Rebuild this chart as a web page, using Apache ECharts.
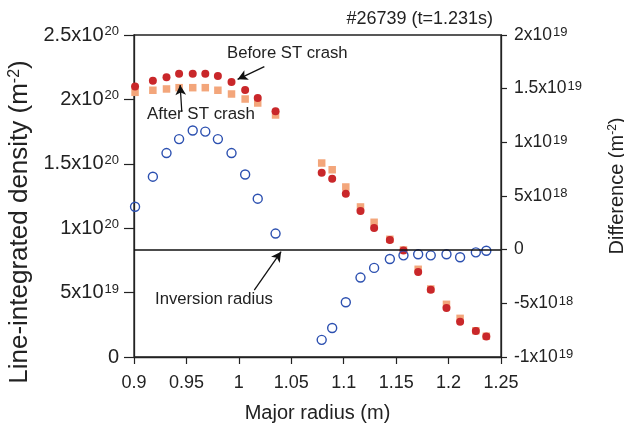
<!DOCTYPE html>
<html><head><meta charset="utf-8">
<script src="https://cdn.jsdelivr.net/npm/echarts@6/dist/echarts.min.js"></script>
<style>html,body{margin:0;padding:0;background:#fff}#c{width:624px;height:423px}</style>
</head><body><div id="c"></div>
<script>
const radius = [0.901,0.918,0.931,0.943,0.956,0.968,0.980,0.993,1.006,1.018,1.035,
                1.079,1.089,1.102,1.116,1.129,1.144,1.157,1.171,1.183,1.198,1.211,1.226,1.236];
// line-integrated density, units of 1e20 m^-2
const beforeCrash = [2.10,2.145,2.172,2.20,2.20,2.20,2.182,2.135,2.073,2.011,1.908,
                     1.431,1.384,1.268,1.134,1.002,0.908,0.826,0.660,0.523,0.380,0.274,0.2015,0.160];
const afterCrash  = [2.055,2.071,2.081,2.091,2.091,2.091,2.071,2.042,2.003,1.972,1.879,
                     1.506,1.454,1.320,1.165,1.046,0.914,0.831,0.681,0.528,0.409,0.300,0.204,0.161];
// difference, units of 1e18 m^-2
const difference  = [4.0,6.8,9.0,10.3,11.1,11.0,10.3,9.0,7.0,4.75,1.5,
                     -8.4,-7.3,-4.9,-2.6,-1.7,-0.87,-0.53,-0.43,-0.53,-0.43,-0.71,-0.25,-0.1];
const xTickLabels = ['0.9','0.95','1','1.05','1.1','1.15','1.2','1.25'];
const leftTickLabels = [['0',''],['5x10','19'],['1x10','20'],['1.5x10','20'],['2x10','20'],['2.5x10','20']];
const rightTickLabels = [['-1x10','19'],['-5x10','18'],['0',''],['5x10','18'],['1x10','19'],['1.5x10','19'],['2x10','19']];

const FONT = 'Liberation Sans, Arial, Helvetica, sans-serif';
function tickRich(base, s){
  return {
    b: {fontFamily: FONT, fontSize: base, color: '#222', lineHeight: base, verticalAlign: 'bottom'},
    s: {fontFamily: FONT, fontSize: s, color: '#222', lineHeight: s, verticalAlign: 'top', padding: [0, 0, 0, 1]}
  };
}
function nameRich(size){
  return {
    b: {fontFamily: FONT, fontSize: size, color: '#222', lineHeight: size, verticalAlign: 'bottom'},
    s: {fontFamily: FONT, fontSize: Math.round(size * 0.62), color: '#222', lineHeight: Math.round(size * 0.62), verticalAlign: 'top'}
  };
}
function sup(pair){ return pair[1] ? '{b|' + pair[0] + '}{s|' + pair[1] + '}' : '{b|' + pair[0] + '}'; }

const e20 = 1e20, e18 = 1e18;
const chart = echarts.init(document.getElementById('c'), null, {renderer: 'canvas'});
const axisLine = {show: true, lineStyle: {color: '#222', width: 1.3}};
chart.setOption({
  animation: false,
  title: {text: '#26739 (t=1.231s)', right: 126, top: 5,
    textStyle: {fontFamily: FONT, fontSize: 18, fontWeight: 'normal', color: '#222'}},
  grid: {left: 134, right: 123, top: 35, bottom: 66, show: true, borderColor: '#222', borderWidth: 1.3,
    outerBoundsMode: 'none', containLabel: false},
  xAxis: {type: 'value', min: 0.9, max: 1.25, interval: 0.05,
    name: 'Major radius (m)', nameLocation: 'middle', nameGap: 46,
    nameTextStyle: {fontFamily: FONT, fontSize: 20, color: '#222'},
    axisLine: axisLine, axisTick: {show: true, inside: false, length: 7, lineStyle: {color: '#222', width: 1.2}},
    axisLabel: {margin: 17, fontFamily: FONT, fontSize: 18, color: '#222',
      formatter: (v, i) => xTickLabels[Math.round((v - 0.9) / 0.05)]},
    splitLine: {show: false}},
  yAxis: [
    {type: 'value', min: 0, max: 2.5e20, interval: 0.5e20, position: 'left',
      name: '{b|Line-integrated density (m}{s|-2}{b|)}', nameLocation: 'middle', nameGap: 101, nameRotate: 90,
      nameTextStyle: {rich: nameRich(26), padding: [0, 52, 0, 0]},
      axisLine: axisLine, axisTick: {show: true, length: 10, lineStyle: {color: '#222', width: 1.2}},
      axisLabel: {margin: 15, rich: tickRich(20, 13), formatter: (v) => sup(leftTickLabels[Math.round(v / 0.5e20)])},
      splitLine: {show: false}},
    {type: 'value', min: -1e19, max: 2e19, interval: 5e18, position: 'right',
      name: '{b|Difference (m}{s|-2}{b|)}', nameLocation: 'middle', nameGap: 106, nameRotate: 90,
      nameTextStyle: {rich: nameRich(20), padding: [0, 0, 0, 20]},
      axisLine: axisLine, axisTick: {show: true, length: 6, lineStyle: {color: '#222', width: 1.2}},
      axisLabel: {margin: 13, rich: tickRich(17.5, 13), formatter: (v) => sup(rightTickLabels[Math.round((v + 1e19) / 5e18)])},
      splitLine: {show: false}}
  ],
  series: [
    {name: 'After ST crash', type: 'scatter', yAxisIndex: 0, symbol: 'rect', symbolSize: 7.5,
      itemStyle: {color: '#f3a67b', opacity: 1},
      data: radius.map((r, i) => [r, afterCrash[i] * e20])},
    {name: 'Before ST crash', type: 'scatter', yAxisIndex: 0, symbol: 'circle', symbolSize: 8,
      itemStyle: {color: '#c9272a', opacity: 1},
      data: radius.map((r, i) => [r, beforeCrash[i] * e20]),
      markLine: {silent: true, symbol: ['none', 'arrow'], symbolSize: [8, 10],
        lineStyle: {color: '#111', width: 1.3, type: 'solid'}, label: {show: false},
        data: [
          [{coord: [1.0243, 2.254e20]}, {coord: [0.9988, 2.156e20]}],
          [{coord: [0.9456, 1.902e20]}, {coord: [0.9440, 2.112e20]}],
          [{coord: [1.0147, 0.520e20]}, {coord: [1.0403, 0.8175e20]}]
        ]}},
    {name: 'Difference', type: 'scatter', yAxisIndex: 1, symbol: 'circle', symbolSize: 9,
      itemStyle: {color: 'rgba(0,0,0,0)', borderColor: '#2c50b0', borderWidth: 1.4, opacity: 1},
      data: radius.map((r, i) => [r, difference[i] * e18]),
      markLine: {silent: true, symbol: 'none', label: {show: false},
        lineStyle: {color: '#111', width: 1.6, type: 'solid'},
        data: [{yAxis: 0}]}}
  ],
  graphic: [
    {type: 'text', left: 227, top: 45, style: {text: 'Before ST crash', font: '16.7px ' + FONT, fill: '#222'}},
    {type: 'text', left: 147, top: 106, style: {text: 'After ST crash', font: '16.9px ' + FONT, fill: '#222'}},
    {type: 'text', left: 155, top: 291, style: {text: 'Inversion radius', font: '16.7px ' + FONT, fill: '#222'}}
  ]
});
</script></body></html>
